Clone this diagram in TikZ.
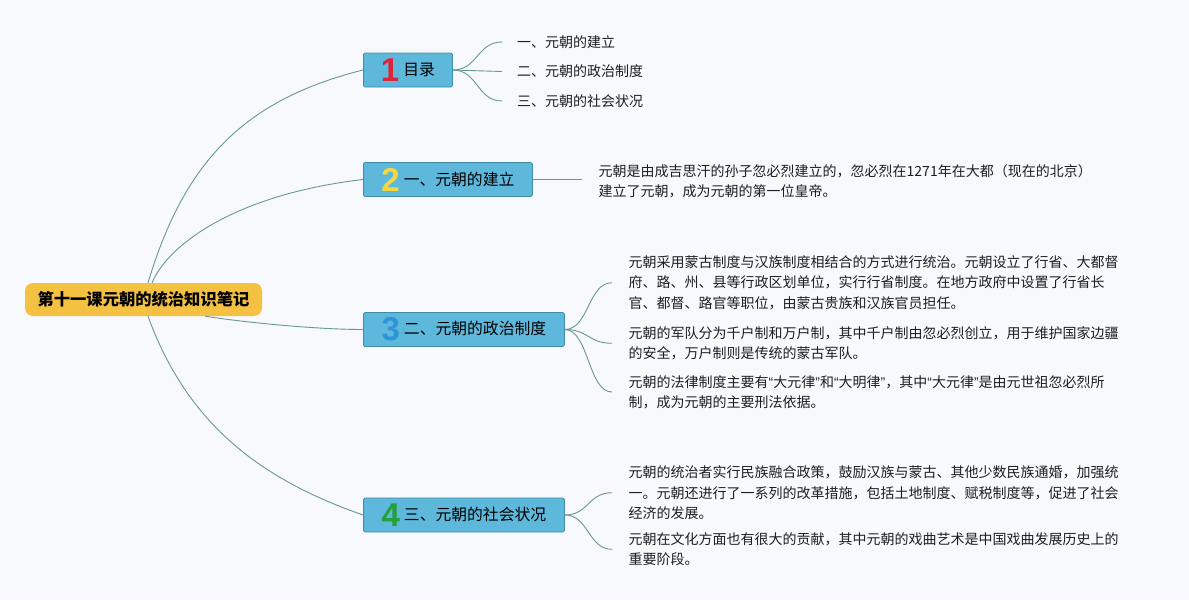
\documentclass[tikz,border=0pt]{standalone}
\usepackage{fontspec}
\setmainfont{Noto Sans CJK SC}
\newfontfamily\numfont{Liberation Sans}
\usetikzlibrary{calc}
\definecolor{bgc}{RGB}{247,249,253}
\definecolor{rootc}{RGB}{245,193,66}
\definecolor{boxc}{RGB}{93,184,220}
\definecolor{boxb}{RGB}{64,140,168}
\definecolor{linec}{RGB}{104,152,148}
\definecolor{textc}{RGB}{30,30,30}
\definecolor{dred}{RGB}{222,36,58}
\definecolor{dyel}{RGB}{246,216,62}
\definecolor{dblu}{RGB}{46,148,218}
\definecolor{dgrn}{RGB}{36,160,58}
\newcommand\bnum[2]{\raisebox{-5.9pt}{\numfont\bfseries\fontsize{33}{33}\selectfont\textcolor{#1}{#2}}\hspace{4pt}}
\newcommand\myLq{{\numfont “}}
\newcommand\myRq{{\numfont ”}}
\tikzset{
  rootbox/.style={fill=rootc, rounded corners=8pt, minimum width=237pt, minimum height=33pt, inner sep=0pt, font=\fontsize{16.3}{16.3}\selectfont\bfseries, text=black},
  branchbox/.style={fill=boxc, draw=boxb, line width=0.8pt, rounded corners=1.5pt, minimum height=34pt, inner xsep=0pt, inner ysep=0pt, anchor=west, font=\fontsize{15.8}{16}\selectfont, text=black},
  toc/.style={anchor=west, inner xsep=15pt, inner ysep=0pt, font=\fontsize{14}{14}\selectfont, text=textc},
  txt/.style={anchor=west, inner xsep=16.5pt, inner ysep=0pt, align=left, font=\fontsize{14}{20.3}\selectfont, text=textc},
  conn/.style={draw=linec, line width=0.9pt}
}
\begin{document}
\begin{tikzpicture}[x=1pt,y=-1pt]
\useasboundingbox (0,0) rectangle (1189,600);
\fill[bgc] (0,0) rectangle (1189,600);

% root
\node[rootbox] (root) at (143.5,299.5) {第十一课元朝的统治知识笔记};

% branches
\node[branchbox, minimum width=89pt] (n1) at (363,70) {\bnum{dred}{1}目录};
\node[branchbox, minimum width=169pt] (n2) at (363,179.5) {\bnum{dyel}{2}一、元朝的建立};
\node[branchbox, minimum width=201pt] (n3) at (363,329.5) {\bnum{dblu}{3}二、元朝的政治制度};
\node[branchbox, minimum width=201pt] (n4) at (363,515) {\bnum{dgrn}{4}三、元朝的社会状况};

% table of contents
\node[toc] (c11) at (502,42) {一、元朝的建立};
\node[toc] (c12) at (502,71.5) {二、元朝的政治制度};
\node[toc] (c13) at (502,101) {三、元朝的社会状况};

% paragraphs
\node[txt] (p2) at (582,181.5) {元朝是由成吉思汗的孙子忽必烈建立的，忽必烈在1271年在大都（现在的北京）\\建立了元朝，成为元朝的第一位皇帝。};
\node[txt] (p31) at (612,282.7) {元朝采用蒙古制度与汉族制度相结合的方式进行统治。元朝设立了行省、大都督\\府、路、州、县等行政区划单位，实行行省制度。在地方政府中设置了行省长\\官、都督、路官等职位，由蒙古贵族和汉族官员担任。};
\node[txt] (p32) at (612,343.3) {元朝的军队分为千户制和万户制，其中千户制由忽必烈创立，用于维护国家边疆\\的安全，万户制则是传统的蒙古军队。};
\node[txt] (p33) at (612,392) {元朝的法律制度主要有\myLq 大元律\myRq 和\myLq 大明律\myRq ，其中\myLq 大元律\myRq 是由元世祖忽必烈所\\制，成为元朝的主要刑法依据。};
\node[txt] (p41) at (612,492.7) {元朝的统治者实行民族融合政策，鼓励汉族与蒙古、其他少数民族通婚，加强统\\一。元朝还进行了一系列的改革措施，包括土地制度、赋税制度等，促进了社会\\经济的发展。};
\node[txt] (p42) at (612,549.3) {元朝在文化方面也有很大的贡献，其中元朝的戏曲艺术是中国戏曲发展历史上的\\重要阶段。};

% root connectors
\draw[conn] ([xshift=4.5pt]root.north) .. controls +(36,-120) and +(-120,30) .. (n1.west);
\draw[conn] ([xshift=8.5pt]root.north) .. controls +(16,-38) and +(-128,15) .. (n2.west);
\draw[conn] ([xshift=61.5pt]root.south) .. controls +(45,7) and +(-43,0) .. (n3.west);
\draw[conn] ([xshift=4.5pt]root.south) .. controls +(40,110) and +(-100,-35) .. (n4.west);

% branch connectors
\foreach \c in {c11,c12,c13}
  \draw[conn] (n1.east) .. controls +(25,0) and +(-25,0) .. (\c.west);
\draw[conn] (n2.east) -- (n2.east -| p2.west);
\foreach \c in {p31,p32,p33}
  \draw[conn] (n3.east) .. controls +(24,0) and +(-24,0) .. (\c.west);
\foreach \c in {p41,p42}
  \draw[conn] (n4.east) .. controls +(24,0) and +(-24,0) .. (\c.west);
\end{tikzpicture}
\end{document}
